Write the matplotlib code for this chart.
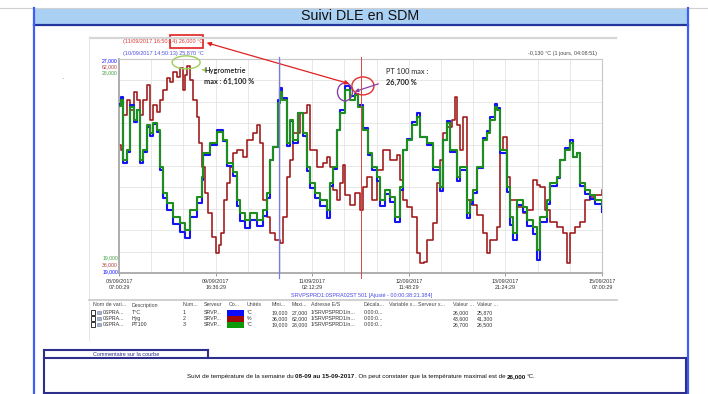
import matplotlib
matplotlib.use("Agg")
import matplotlib.pyplot as plt
import numpy as np
from datetime import datetime, timedelta
from matplotlib.patches import Rectangle, Ellipse, FancyArrowPatch
from matplotlib.lines import Line2D

# ---------------------------------------------------------------- data
start = datetime(2017, 9, 8, 7, 0, 29)
span_hours = 168.0

# hours since start, shared by the two temperature probes
t_temp = [0.0, 0.7, 1.4, 2.8, 3.8, 5.2, 6.3, 7.3, 8.3, 9.7, 10.8, 11.8, 13.2, 14.3,
          15.3, 16.7, 18.8, 21.2, 23.0, 24.7, 27.1, 28.9, 29.2, 31.7, 34.1, 36.2,
          37.6, 39.7, 41.0, 42.1, 43.8, 45.6, 48.0, 50.1, 51.5, 52.5, 53.6, 55.3,
          56.0, 56.7, 58.4, 59.5, 60.5, 62.3, 64.0, 65.4, 66.4, 68.2, 69.9, 72.3,
          73.4, 74.4, 75.8, 76.9, 78.6, 80.3, 82.1, 83.1, 84.9, 86.6, 88.0, 89.7,
          90.8, 92.5, 94.3, 96.0, 97.7, 98.8, 100.2, 101.9, 103.7, 104.7, 107.1,
          109.2, 111.7, 112.7, 114.1, 115.1, 117.6, 118.6, 121.0, 122.1, 123.1,
          124.5, 126.6, 128.0, 129.0, 130.8, 131.5, 132.5, 135.0, 136.0, 137.0,
          138.4, 140.5, 141.9, 144.0, 145.4, 146.4, 148.9, 149.9, 152.3, 153.4,
          155.1, 156.9, 157.9, 159.3, 160.3, 162.1, 163.8, 165.6, 168.0]

# PT100 probe (°C)
pt100 = [26.02, 26.28, 23.75, 24.17, 25.98, 25.43, 25.86, 23.75, 24.17, 25.22, 24.89,
         25.31, 25.01, 23.46, 22.36, 21.94, 21.36, 21.10, 20.81, 21.65, 22.20, 23.04,
         24.05, 24.47, 24.93, 24.59, 23.63, 23.25, 22.07, 21.52, 21.23, 21.52, 21.23,
         21.65, 22.36, 23.75, 24.30, 26.15, 26.61, 26.28, 24.47, 25.43, 24.59, 25.73,
         24.89, 23.46, 22.79, 22.36, 22.07, 21.65, 22.79, 23.46, 25.01, 25.73, 26.70,
         26.28, 26.49, 25.98, 25.01, 24.05, 23.46, 23.04, 22.07, 22.49, 22.20, 21.36,
         22.62, 24.17, 24.59, 25.22, 25.56, 24.72, 24.47, 23.46, 22.62, 24.59, 25.31,
         24.17, 23.04, 23.46, 21.52, 22.07, 22.49, 23.46, 24.59, 24.89, 25.43, 25.98,
         25.86, 24.17, 22.62, 21.36, 20.68, 22.07, 21.78, 21.23, 20.93, 19.97, 21.36,
         22.07, 22.79, 23.04, 23.75, 24.17, 24.47, 23.88, 24.05, 22.79, 22.49, 22.28,
         22.07, 21.86]

# ambient temperature sensor (°C)
temp = [25.32, 25.58, 23.11, 23.52, 25.28, 24.64, 25.09, 23.11, 23.52, 24.46, 24.12,
        24.57, 24.27, 22.85, 21.80, 21.36, 20.83, 20.53, 20.31, 21.09, 21.62, 22.48,
        23.41, 23.79, 24.35, 23.93, 23.00, 22.63, 21.50, 20.94, 20.68, 20.98, 20.76,
        21.13, 21.80, 23.22, 23.71, 25.47, 25.92, 25.54, 23.75, 24.68, 23.86, 24.98,
        24.12, 22.81, 22.18, 21.80, 21.50, 21.06, 22.25, 22.89, 24.35, 25.09, 26.00,
        25.62, 25.69, 25.28, 24.42, 23.41, 22.85, 22.44, 21.50, 21.95, 21.65, 20.91,
        22.10, 23.60, 24.01, 24.64, 24.98, 24.08, 23.79, 22.85, 22.07, 23.97, 24.68,
        23.52, 22.44, 22.85, 21.06, 21.58, 21.99, 22.93, 24.05, 24.31, 24.83, 25.32,
        25.17, 23.49, 22.03, 20.79, 20.23, 21.54, 21.28, 20.76, 20.46, 19.49, 20.91,
        21.58, 22.25, 22.55, 23.22, 23.67, 23.97, 23.34, 23.49, 22.25, 21.95, 21.77,
        21.58, 21.28]

# hygrometry (%)
t_hyg = [0.0, 0.7, 1.4, 2.8, 3.8, 5.2, 6.3, 7.3, 8.3, 9.7, 10.8, 11.8, 13.2, 14.3,
         15.3, 16.7, 17.7, 18.8, 20.2, 21.2, 22.3, 23.0, 23.7, 24.7, 25.7, 27.1, 27.8,
         28.9, 29.9, 31.0, 32.3, 33.7, 34.8, 35.5, 36.5, 37.6, 38.6, 39.7, 41.0, 43.1,
         44.5, 46.6, 48.0, 49.0, 50.1, 51.5, 52.5, 54.3, 56.0, 57.0, 58.4, 59.5, 60.5,
         63.0, 65.4, 66.4, 68.9, 71.0, 72.3, 73.4, 74.4, 75.8, 76.9, 77.9, 78.6, 80.3,
         82.1, 83.8, 84.9, 86.3, 88.0, 89.7, 91.8, 94.3, 96.7, 97.7, 98.8, 100.2,
         101.9, 103.7, 104.7, 106.1, 107.1, 109.2, 110.6, 111.7, 112.7, 114.1, 115.8,
         116.9, 117.6, 118.6, 119.7, 121.0, 122.8, 124.5, 126.6, 128.0, 129.0, 131.5,
         132.5, 133.6, 135.0, 136.0, 138.4, 140.5, 141.9, 144.0, 145.4, 146.4, 148.2,
         149.9, 152.3, 154.4, 155.8, 156.9, 158.6, 160.3, 162.1, 163.8, 165.6, 168.0]
hyg = [51.55, 50.94, 55.20, 57.02, 55.80, 57.99, 57.02, 55.20, 57.02, 58.84, 54.59,
       56.41, 55.56, 57.02, 58.23, 59.69, 59.21, 60.42, 59.81, 60.91, 58.23, 60.06,
       61.10, 59.45, 57.02, 54.95, 51.79, 48.88, 45.72, 43.29, 40.37, 38.43, 39.40,
       40.86, 44.87, 46.93, 48.88, 50.58, 50.94, 50.09, 52.16, 53.01, 53.98, 51.79,
       44.87, 42.80, 40.86, 40.01, 39.64, 42.80, 47.66, 49.73, 53.01, 55.44, 56.41,
       50.94, 48.88, 49.36, 50.09, 48.88, 46.08, 44.87, 46.93, 49.12, 45.48, 44.26,
       45.72, 43.65, 46.45, 47.66, 44.87, 48.51, 50.94, 49.73, 50.34, 47.30, 44.87,
       44.02, 42.80, 38.43, 37.21, 37.34, 40.01, 42.07, 46.93, 49.73, 53.01, 53.74,
       54.59, 57.38, 53.98, 50.94, 54.95, 44.87, 44.26, 43.05, 40.86, 38.43, 40.01,
       41.59, 50.94, 52.52, 47.66, 44.87, 44.02, 43.29, 43.65, 47.30, 46.69, 46.45,
       43.65, 42.20, 41.59, 40.86, 37.21, 40.86, 41.59, 42.20, 44.87, 45.23, 45.48,
       46.08]

# channel table
var_names = ["0SPRA...", "0SPRA...", "0SPRA..."]
descriptions = ["T°C", "Hyg", "PT100"]
numbers = ["1", "2", "3"]
units = ["°C", "%", "°C"]
y_min = [19.0, 36.0, 19.0]
y_max = [27.0, 62.0, 28.0]
last_value = [26.0, 43.6, 26.7]
cursor_value = [25.87, 41.3, 26.5]
channel_colors = ["#0a0aff", "#a00808", "#0a9a0a"]
line_colors = ["#1414f0", "#9e1616", "#1e8e1e"]

# cursors (hours since start)
cursor_blue_h = 55.65
cursor_red_h = 84.15

hyg_max = 61.1
pt100_max = 26.7

# ---------------------------------------------------------------- helpers
W, H = 708, 394
fig = plt.figure(figsize=(W / 100, H / 100), dpi=100)
fig.patch.set_facecolor("white")
plt.rcParams["font.family"] = ["Liberation Sans", "DejaVu Sans"]


def fx(x):
    return x / W


def fy(y):
    return 1 - y / H


def ftext(x, y, s, **kw):
    kw.setdefault("fontsize", 4.0)
    kw.setdefault("va", "center")
    return fig.text(fx(x), fy(y), s, **kw)


def fline(x0, y0, x1, y1, **kw):
    fig.add_artist(Line2D([fx(x0), fx(x1)], [fy(y0), fy(y1)],
                          transform=fig.transFigure, **kw))


def frect(x0, y0, x1, y1, **kw):
    fig.add_artist(Rectangle((fx(x0), fy(y1)), fx(x1) - fx(x0), fy(y0) - fy(y1),
                             transform=fig.transFigure, **kw))


def fmt(v):
    return f"{v:.3f}".replace(".", ",")


# ---------------------------------------------------------------- page frame
fline(0, 8, 708, 8, color="#d0d0d0", lw=0.8)
frect(34, 8, 688, 25, facecolor="#aad0f4", edgecolor="none")
fline(34, 25, 688, 25, color="#22379c", lw=1.6)
fline(33.5, 8, 33.5, 394, color="#3f5ff0", lw=1.6)
fline(688, 8, 688, 394, color="#3f5ff0", lw=1.6)
ftext(360, 16.5, "Suivi DLE en SDM", fontsize=10.3, ha="center", color="#111111")
ftext(62, 80, "·", fontsize=5, ha="center", color="#6070a0")

# panel edges
fline(90, 38, 616, 38, color="#d6d6d6", lw=1.6)
fline(89, 36, 89, 340, color="#e2e2e2", lw=0.6)

# ---------------------------------------------------------------- chart
L, R, T, B = 119, 602, 59, 273
ax_hyg = fig.add_axes([fx(L), fy(B), (R - L) / W, (B - T) / H])
ax_temp = ax_hyg.twinx()
ax_pt = ax_hyg.twinx()

axes_by_channel = [ax_temp, ax_hyg, ax_pt]
for a, lo, hi in zip(axes_by_channel, y_min, y_max):
    a.set_ylim(lo, hi)
    a.set_xlim(0, span_hours)

for a in (ax_temp, ax_pt):
    a.set_yticks([])
    a.tick_params(axis="both", length=0, labelleft=False, labelright=False)
    for s in a.spines.values():
        s.set_visible(False)

ax_hyg.set_yticks(np.linspace(y_min[1], y_max[1], 11))
ax_hyg.tick_params(axis="y", length=0, labelleft=False)
major = np.arange(0, span_hours + 0.01, span_hours / 5)
minor = np.arange(0, span_hours + 0.01, span_hours / 15)
ax_hyg.set_xticks(major)
ax_hyg.set_xticks(minor, minor=True)
labels = []
for h in major:
    d = start + timedelta(hours=float(h))
    labels.append(d.strftime("%d/%m/%Y") + "\n" + d.strftime("%H:%M:%S"))
ax_hyg.set_xticklabels(labels, fontsize=3.9, color="#333333", linespacing=1.25)
ax_hyg.tick_params(axis="x", which="major", length=2.5, width=0.6, color="#888888", pad=1.5)
ax_hyg.tick_params(axis="x", which="minor", length=0)
ax_hyg.grid(True, which="both", color="#e4e4e4", lw=0.6)
ax_hyg.set_axisbelow(True)
for side in ("left", "bottom"):
    ax_hyg.spines[side].set_color("#a8a8a8")
    ax_hyg.spines[side].set_linewidth(1.3)
for side in ("top", "right"):
    ax_hyg.spines[side].set_color("#c8c8c8")
    ax_hyg.spines[side].set_linewidth(0.8)

ax_hyg.plot(t_hyg, hyg, drawstyle="steps-post", color=line_colors[1], lw=1.15)
ax_temp.plot(t_temp, temp, drawstyle="steps-post", color=line_colors[0], lw=1.5)
ax_pt.plot(t_temp, pt100, drawstyle="steps-post", color=line_colors[2], lw=1.5)

# stacked scale labels
ftext(118, 61, fmt(y_max[0]), ha="right", color=channel_colors[0], fontsize=3.7)
ftext(118, 67, fmt(y_max[1]), ha="right", color="#b04040", fontsize=3.7)
ftext(118, 73, fmt(y_max[2]), ha="right", color="#40a040", fontsize=3.7)
ftext(118, 258, fmt(y_min[2]), ha="right", color="#40a040", fontsize=3.7)
ftext(118, 265, fmt(y_min[1]), ha="right", color="#b04040", fontsize=3.7)
ftext(118, 272, fmt(y_min[0]), ha="right", color=channel_colors[0], fontsize=3.7)


def to_px(ax, t, v):
    X, Y = ax.transData.transform((t, v))
    return X, H - Y


# cursors
cbx, _ = to_px(ax_hyg, cursor_blue_h, y_min[1])
crx, _ = to_px(ax_hyg, cursor_red_h, y_min[1])
fline(cbx, 57, cbx, 278, color="#7a7ae0", lw=0.9)
fline(crx, 57, crx, 278, color="#e04040", lw=0.7)

# cursor readouts
ftext(123, 41.5, "(11/09/2017 16:50:14) 26,000 °C", color="#e03a3a", fontsize=4.0)
ftext(123, 53, "(10/09/2017 14:50:13) 25,870 °C", color="#5050e0", fontsize=4.0)
ftext(597, 53, "-0,130 °C (1 jours, 04:08:51)", ha="right", color="#444444", fontsize=3.9)
frect(170, 35, 203, 48, facecolor="none", edgecolor="#e02020", lw=1.2)

# annotations on the maxima
i_h = int(np.argmax(hyg))
hx, hy = to_px(ax_hyg, t_hyg[i_h], hyg[i_h])
fig.add_artist(Ellipse((fx(hx - 1), fy(hy - 4)), 28 / W, 13 / H, transform=fig.transFigure,
                       facecolor="none", edgecolor="#9fd05a", lw=1.0))
fig.add_artist(FancyArrowPatch((fx(205), fy(70)), (fx(199), fy(69.5)),
                               transform=fig.transFigure, arrowstyle="-|>",
                               mutation_scale=5, color="#9fd05a", lw=0.8))
ftext(204, 70, "Hygrometrie", fontsize=5.3, family=["Lato", "DejaVu Sans"],
      weight="semibold", color="#222222")
ftext(204, 81, f"max : {fmt(hyg_max)} %", fontsize=5.3,
      family=["Lato", "DejaVu Sans"], weight="bold", color="#222222")

i_p = int(np.argmax(pt100))
px_, py_ = to_px(ax_pt, t_temp[i_p], pt100[i_p])
fig.add_artist(Ellipse((fx(px_), fy(py_ + 2)), 15 / W, 18 / H, transform=fig.transFigure,
                       facecolor="none", edgecolor="#8a3fa8", lw=1.0))
fig.add_artist(Ellipse((fx(crx + 2), fy(py_ - 4)), 22 / W, 18 / H, transform=fig.transFigure,
                       facecolor="none", edgecolor="#e03030", lw=1.0))
fig.add_artist(FancyArrowPatch((fx(381), fy(83)), (fx(352), fy(92.5)),
                               transform=fig.transFigure, arrowstyle="-|>",
                               mutation_scale=5, color="#8a3fa8", lw=0.9))
fig.add_artist(FancyArrowPatch((fx(352), fy(84.5)), (fx(204), fy(42)),
                               transform=fig.transFigure, arrowstyle="<|-|>",
                               mutation_scale=6, color="#e02020", lw=0.9))
ftext(386, 72, "PT 100 max :", fontsize=5.3, family=["Lato", "DejaVu Sans"], color="#222222")
ftext(386, 82, f"{fmt(pt100_max)} %", fontsize=5.3,
      family=["Lato", "DejaVu Sans"], weight="bold", color="#222222")

ftext(291, 296, "SRVPSPRD1:0SPRA02ST 501 [Ajusté - 00:00:38:21.384]",
      color="#4a4ae6", fontsize=4.0)

# ---------------------------------------------------------------- channel table
fline(89, 300, 617, 300, color="#c8c8c8", lw=1.2)
head = ["Nom de vari...", "Description", "Num...", "Serveur", "Co...", "Unités", "Mini...",
        "Maxi...", "Adresse E/S", "Décala...", "Variable x...", "Serveur x...", "Valeur ...",
        "Valeur ..."]
col_x = [93, 132, 183, 204, 229, 247, 272, 292, 311, 364, 389, 418, 453, 477]
for s, x in zip(head, col_x):
    ftext(x, 305, s, color="#444444", fontsize=3.8)

row_y = [312.5, 318.5, 324.5]
for i, y in enumerate(row_y):
    frect(90.5, y - 2.3, 95, y + 2.3, facecolor="#ffffff", edgecolor="#333333", lw=0.7)
    frect(97, y - 1.8, 101, y + 1.8, facecolor="#a8b4cc", edgecolor="#7080a0", lw=0.4)
    frect(227, y - 3, 244, y + 3, facecolor=channel_colors[i], edgecolor="none")
    cells = [var_names[i], descriptions[i], numbers[i], "SRVP...", None, units[i],
             fmt(y_min[i]), fmt(y_max[i]), "1/SRVPSPRD1/n...", "0:00:0...", "", "",
             fmt(last_value[i]), fmt(cursor_value[i])]
    xs = [103] + col_x[1:]
    for s, x in zip(cells, xs):
        if s:
            ftext(x, y, s, color="#333333", fontsize=3.8)

# ---------------------------------------------------------------- comment box
navy = "#2e2e8c"
fline(44, 349.5, 208, 349.5, color=navy, lw=1.5)
fline(208, 349.5, 208, 358, color=navy, lw=1.5)
fline(44, 349.5, 44, 393, color=navy, lw=1.5)
fline(44, 358, 686, 358, color=navy, lw=1.5)
fline(686, 358, 686, 393, color=navy, lw=1.5)
fline(44, 393, 686, 393, color=navy, lw=1.5)
ftext(126, 354, "Commentaire sur la courbe", ha="center", color=navy, fontsize=4.0)

# comment line with bold runs, laid out piece by piece on a common baseline
pieces = [("Suivi de température de la semaine du ", "normal"),
          ("08-09 au 15-09-2017", "bold"),
          (". On peut constater que la température maximal est de ", "normal"),
          (fmt(last_value[0]), "bold"),
          ("°C.", "normal")]
arts = [ftext(0, 378, s, fontsize=4.5, weight=w, color="#111111", va="baseline")
        for s, w in pieces]
fig.canvas.draw()
renderer = fig.canvas.get_renderer()
widths = [a.get_window_extent(renderer).width for a in arts]
x = 361 - sum(widths) / 2
for a, w in zip(arts, widths):
    a.set_position((fx(x), fy(378)))
    x += w

fig.savefig("out.png", dpi=100, facecolor="white")
